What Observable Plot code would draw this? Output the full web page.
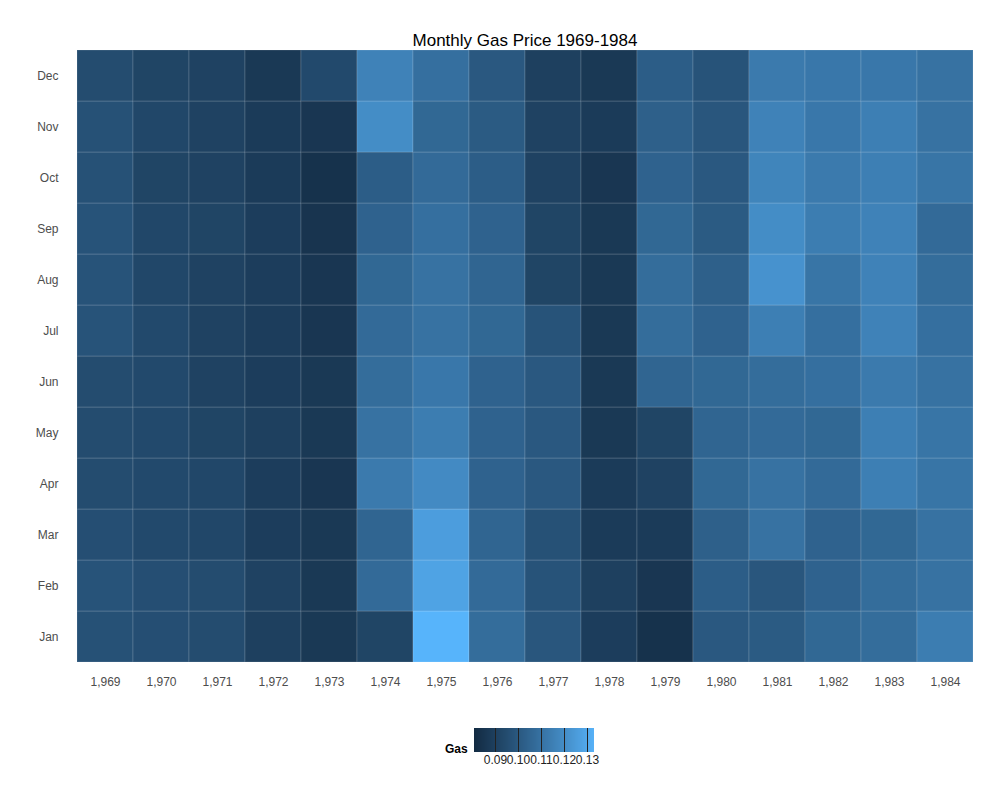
<!DOCTYPE html>
<html><head><meta charset="utf-8">
<script src="https://cdn.jsdelivr.net/npm/d3@7"></script>
<script src="https://cdn.jsdelivr.net/npm/@observablehq/plot@0.6"></script>
<style>
body{margin:0;background:#fff;font-family:"Liberation Sans",Arial,sans-serif}
#wrap{position:relative;width:1000px;height:800px}
#legend{position:absolute;left:445px;top:728px;display:flex;align-items:flex-start}
#legend b{font-size:12px;margin-top:14px;margin-right:6px}
</style></head><body>
<div id="wrap"><div id="chart"></div><div id="legend"><b>Gas</b><div id="ramp"></div></div></div>
<script>
const years = d3.range(1969, 1985)
const months = ['Jan','Feb','Mar','Apr','May','Jun','Jul','Aug','Sep','Oct','Nov','Dec']
// price per year, Jan..Dec
const gas = {
  1969: [0.097,0.098,0.096,0.095,0.095,0.095,0.098,0.098,0.098,0.097,0.097,0.095],
  1970: [0.096,0.096,0.094,0.094,0.094,0.094,0.094,0.093,0.093,0.092,0.093,0.092],
  1971: [0.095,0.095,0.093,0.093,0.092,0.091,0.091,0.091,0.092,0.091,0.091,0.091],
  1972: [0.090,0.091,0.089,0.089,0.090,0.089,0.089,0.089,0.089,0.088,0.088,0.087],
  1973: [0.087,0.087,0.087,0.086,0.087,0.087,0.086,0.086,0.085,0.084,0.086,0.094],
  1974: [0.092,0.107,0.105,0.113,0.110,0.108,0.107,0.106,0.104,0.102,0.120,0.116],
  1975: [0.134,0.128,0.126,0.119,0.114,0.112,0.110,0.110,0.109,0.107,0.106,0.109],
  1976: [0.108,0.107,0.105,0.104,0.104,0.104,0.106,0.105,0.104,0.102,0.101,0.100],
  1977: [0.099,0.098,0.097,0.100,0.100,0.100,0.098,0.092,0.092,0.091,0.091,0.090],
  1978: [0.089,0.090,0.088,0.088,0.087,0.087,0.087,0.087,0.087,0.086,0.088,0.087],
  1979: [0.084,0.086,0.088,0.091,0.092,0.105,0.108,0.108,0.106,0.104,0.103,0.102],
  1980: [0.100,0.102,0.103,0.106,0.105,0.106,0.104,0.103,0.101,0.100,0.099,0.098],
  1981: [0.101,0.099,0.110,0.110,0.107,0.108,0.115,0.122,0.120,0.117,0.116,0.113],
  1982: [0.106,0.104,0.104,0.107,0.106,0.109,0.109,0.111,0.114,0.113,0.112,0.112],
  1983: [0.108,0.108,0.106,0.115,0.115,0.113,0.116,0.116,0.116,0.115,0.115,0.112],
  1984: [0.114,0.110,0.110,0.111,0.111,0.110,0.109,0.108,0.107,0.111,0.110,0.110]
}
const legendTicks = [0.09, 0.10, 0.11, 0.12, 0.13]

const data = years.flatMap(y => months.map((m, i) => ({year: y, month: m, gas: gas[y][i]})))
const colorOpts = {type: 'linear', domain: [0.081, 0.133], range: ['#132B43', '#56B1F7'], interpolate: 'lab'}

let chart = Plot.plot({
  width: 1000, height: 700,
  marginLeft: 72, marginRight: 23, marginTop: 48, marginBottom: 37,
  style: {fontFamily: '"Liberation Sans", Arial, sans-serif', fontSize: 12, color: '#4d4d4d'},
  x: {type: 'band', domain: years, padding: 0, label: null, tickSize: 0, tickPadding: 14},
  y: {type: 'band', domain: months.slice().reverse(), padding: 0, label: null, tickSize: 0, tickPadding: 14},
  color: colorOpts,
  marks: [
    Plot.cell(data, {x: 'year', y: 'month', fill: 'gas', stroke: '#ffffff', strokeOpacity: 0.15, strokeWidth: 1}),
    Plot.text(['Monthly Gas Price 1969-1984'], {frameAnchor: 'top', dy: -15, fontSize: 17, fill: 'black'})
  ]
})
d3.select('#chart').append(() => chart)

let ramp = Plot.legend({
  color: colorOpts, label: null, width: 120, marginLeft: 0, marginRight: 0, marginTop: 0,
  height: 40, ticks: legendTicks, tickFormat: d3.format('.2f'), tickSize: 0,
  style: {fontFamily: '"Liberation Sans", Arial, sans-serif', fontSize: 12, color: '#222'}
})
d3.select('#ramp').append(() => ramp)
</script></body></html>
